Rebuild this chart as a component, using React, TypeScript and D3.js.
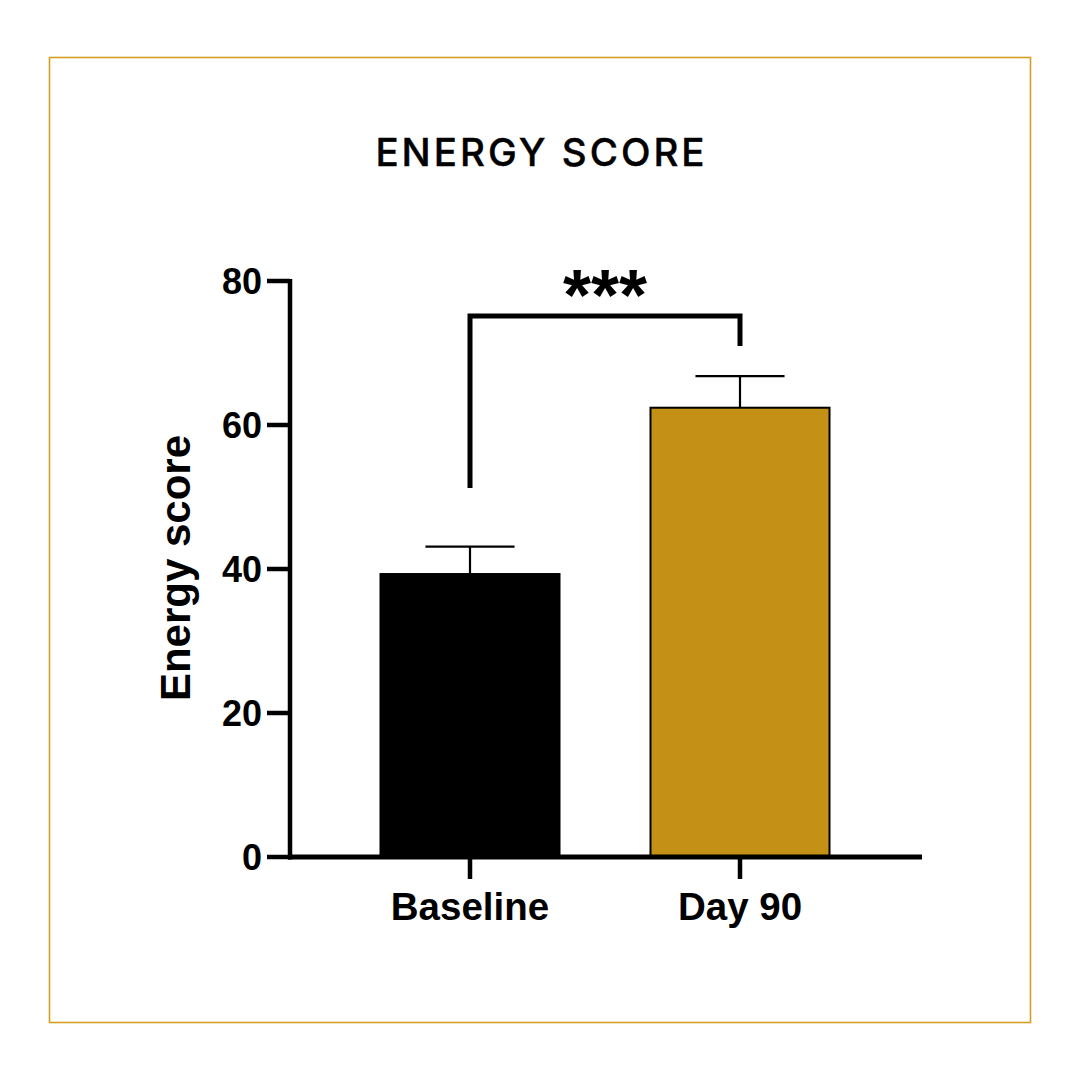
import React from "react";
import * as d3 from "d3";

// Group labels, means and SEM (upper error) values
const groups = ["Baseline", "Day 90"];
const means = [39.3, 62.4];
const sems = [3.8, 4.4];
const barColors = ["#000000", "#C49015"];
const yTicks = [0, 20, 40, 60, 80];
const titleText = "ENERGY SCORE";
const yLabel = "Energy score";
const sigLabel = "***";

const W = 1080;
const H = 1080;

export default function App() {
  const y = d3.scaleLinear().domain([0, 80]).range([857, 281]);
  const x = d3.scalePoint<string>().domain(groups).range([290, 920]).padding(2 / 3);
  const step = x.step();
  const barW = step * 0.663;
  const capW = step * 0.33;
  const axisFont = "'Liberation Sans', Arial, sans-serif";

  const xL = x(groups[0])!;
  const xR = x(groups[1])!;
  const bracketY = 316;

  return (
    <svg
      width={W}
      height={H}
      style={{ position: "absolute", left: 0, top: 0, background: "#fff" }}
    >
      <rect x={0} y={0} width={W} height={H} fill="#fff" />
      {/* frame */}
      <rect x={49.5} y={57.5} width={981} height={965} fill="none" stroke="#D4A023" strokeWidth={1.6} />

      {/* title */}
      <text
        x={541.5}
        y={166}
        textAnchor="middle"
        fontFamily="Inter, 'Open Sans', sans-serif"
        fontWeight={500}
        fontSize={38.5}
        letterSpacing={3}
        stroke="#000"
        strokeWidth={0.4}
        fill="#000"
      >
        {titleText}
      </text>

      {/* bars */}
      {groups.map((g, i) => (
        <g key={g}>
          <line
            x1={x(g)!}
            x2={x(g)!}
            y1={y(means[i])}
            y2={y(means[i] + sems[i])}
            stroke="#000"
            strokeWidth={2.2}
          />
          <line
            x1={x(g)! - capW / 2}
            x2={x(g)! + capW / 2}
            y1={y(means[i] + sems[i])}
            y2={y(means[i] + sems[i])}
            stroke="#000"
            strokeWidth={2.2}
          />
          <rect
            x={x(g)! - barW / 2}
            y={y(means[i])}
            width={barW}
            height={y(0) - y(means[i])}
            fill={barColors[i]}
            stroke="#000"
            strokeWidth={2}
          />
        </g>
      ))}

      {/* y axis */}
      <line x1={290} x2={290} y1={y(80) - 2} y2={y(0) + 2.5} stroke="#000" strokeWidth={4.5} />
      {yTicks.map((t) => (
        <g key={t}>
          <line x1={267} x2={290} y1={y(t)} y2={y(t)} stroke="#000" strokeWidth={4.5} />
          <text
            x={262}
            y={y(t)}
            dy="0.36em"
            textAnchor="end"
            fontFamily={axisFont}
            fontWeight={700}
            fontSize={36}
            fill="#000"
          >
            {t}
          </text>
        </g>
      ))}

      {/* x axis */}
      <line x1={288} x2={922} y1={y(0)} y2={y(0)} stroke="#000" strokeWidth={5} />
      {groups.map((g) => (
        <g key={g}>
          <line x1={x(g)!} x2={x(g)!} y1={y(0)} y2={y(0) + 22} stroke="#000" strokeWidth={4.5} />
          <text
            x={x(g)!}
            y={920}
            textAnchor="middle"
            fontFamily={axisFont}
            fontWeight={700}
            fontSize={38.5}
            fill="#000"
          >
            {g}
          </text>
        </g>
      ))}

      {/* y axis title */}
      <text
        transform={`translate(190, ${568}) rotate(-90)`}
        textAnchor="middle"
        fontFamily={axisFont}
        fontWeight={700}
        fontSize={42}
        fill="#000"
      >
        {yLabel}
      </text>

      {/* significance bracket */}
      <path
        d={`M${xL},488 V${bracketY} H${xR} V346`}
        fill="none"
        stroke="#000"
        strokeWidth={5}
      />
      <text
        x={(xL + xR) / 2}
        y={320}
        textAnchor="middle"
        fontFamily={axisFont}
        fontWeight={700}
        fontSize={72}
        fill="#000"
      >
        {sigLabel}
      </text>
    </svg>
  );
}
